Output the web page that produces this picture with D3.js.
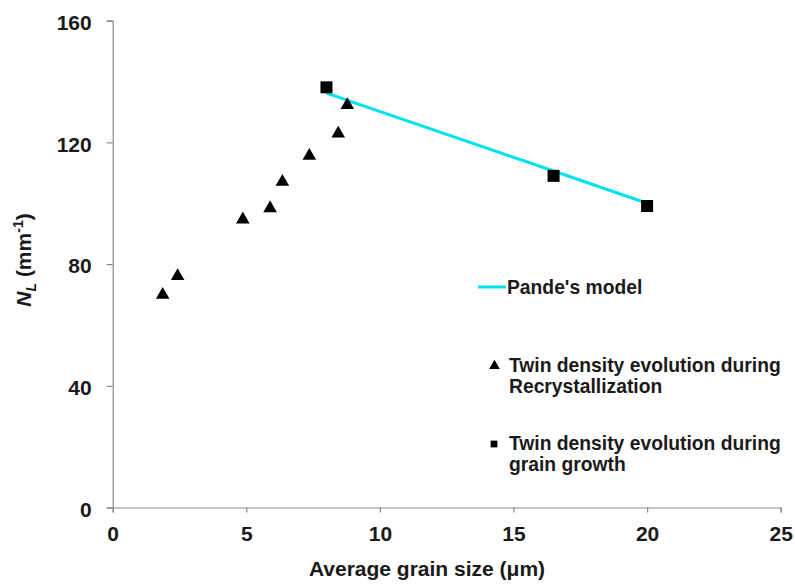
<!DOCTYPE html>
<html>
<head>
<meta charset="utf-8">
<script src="https://cdn.jsdelivr.net/npm/d3@7"></script>
<style>
  html, body { margin: 0; padding: 0; background: #fff; }
  svg { display: block; font-family: "Liberation Sans", Arial, Helvetica, sans-serif; }
</style>
</head>
<body>
<svg id="chart" width="795" height="586"></svg>
<script>
// ---- Data ----
const recrystX = [1.87, 2.43, 4.87, 5.89, 6.35, 7.36, 8.44, 8.78];
const recrystY = [70.2, 76.4, 95.0, 98.7, 107.4, 115.9, 123.2, 132.6];

const growthX = [8.0, 16.5, 20.0];
const growthY = [138.1, 109.0, 99.1];

const pandeX = [8.0, 16.5, 20.0];
const pandeY = [136.2, 110.6, 100.0];

const xTicks = [0, 5, 10, 15, 20, 25];
const yTicks = [0, 40, 80, 120, 160];

const xTitle = "Average grain size (\u03bcm)";
const legendLabels = [
  ["Pande's model"],
  ["Twin density evolution during", "Recrystallization"],
  ["Twin density evolution during", "grain growth"]
];

// ---- Setup ----
const svg = d3.select("#chart");
const textColor = "#1a1a1a";
const axisColor = "#8a8a8a";
const cyan = "#00e2ee";

const x = d3.scaleLinear().domain([0, 25]).range([112.7, 780.7]);
const y = d3.scaleLinear().domain([0, 160]).range([507.5, 20.7]);

// Axes
const xAxis = svg.append("g")
  .attr("transform", `translate(0,${y(0)})`)
  .call(d3.axisBottom(x).tickValues(xTicks).tickSizeOuter(0).tickSize(5).tickPadding(14));
const yAxis = svg.append("g")
  .attr("transform", `translate(${x(0)},0)`)
  .call(d3.axisLeft(y).tickValues(yTicks).tickSizeOuter(0).tickSize(6).tickPadding(15));

[xAxis, yAxis].forEach(g => {
  g.select(".domain").attr("stroke", axisColor).attr("stroke-width", 1.2);
  g.selectAll(".tick line").attr("stroke", axisColor).attr("stroke-width", 1.2);
  g.selectAll(".tick text")
    .attr("fill", textColor)
    .attr("font-size", 21)
    .attr("font-weight", "bold")
    .attr("font-family", "'Liberation Sans', Arial, sans-serif");
});
yAxis.selectAll(".tick text").attr("dy", "0.42em");

// Axis titles
svg.append("text")
  .attr("x", 427).attr("y", 576)
  .attr("text-anchor", "middle")
  .attr("font-size", 21).attr("font-weight", "bold")
  .attr("fill", textColor)
  .text(xTitle);

const yt = svg.append("text")
  .attr("transform", "translate(31,260) rotate(-90)")
  .attr("text-anchor", "middle")
  .attr("font-size", 21).attr("font-weight", "bold")
  .attr("fill", textColor);
yt.append("tspan").attr("font-style", "italic").text("N");
yt.append("tspan").attr("font-style", "italic").attr("font-size", 14).attr("dy", 5).text("L");
yt.append("tspan").attr("dy", -5).text(" (mm");
yt.append("tspan").attr("font-size", 14).attr("dy", -8).text("-1");
yt.append("tspan").attr("dy", 8).text(")");

// Pande's model line
const pande = pandeX.map((d, i) => [d, pandeY[i]]);
svg.append("path")
  .datum(pande)
  .attr("fill", "none")
  .attr("stroke", cyan)
  .attr("stroke-width", 3)
  .attr("d", d3.line().x(d => x(d[0])).y(d => y(d[1])));

// Growth squares
const sq = d3.symbol().type(d3.symbolSquare).size(144);
svg.append("g").selectAll("path")
  .data(growthX.map((d, i) => [d, growthY[i]]))
  .join("path")
  .attr("d", sq)
  .attr("fill", "#000")
  .attr("transform", d => `translate(${x(d[0])},${y(d[1])})`);

// Recrystallization triangles
const tri = d3.symbol().type(d3.symbolTriangle).size(80);
svg.append("g").selectAll("path")
  .data(recrystX.map((d, i) => [d, recrystY[i]]))
  .join("path")
  .attr("d", tri)
  .attr("fill", "#000")
  .attr("transform", d => `translate(${x(d[0])},${y(d[1]) + 1})`);

// Legend
const leg = svg.append("g").attr("font-size", 19.3).attr("font-weight", "bold").attr("fill", textColor);
leg.append("line")
  .attr("x1", 478).attr("x2", 506).attr("y1", 287).attr("y2", 287)
  .attr("stroke", cyan).attr("stroke-width", 3);
leg.append("text").attr("x", 507).attr("y", 293.5).text(legendLabels[0][0]);

leg.append("path")
  .attr("d", d3.symbol().type(d3.symbolTriangle).size(50)())
  .attr("fill", "#000")
  .attr("transform", "translate(494.5,366)");
legendLabels[1].forEach((t, i) => {
  leg.append("text").attr("x", 509).attr("y", 372 + i * 21).text(t);
});

leg.append("path")
  .attr("d", d3.symbol().type(d3.symbolSquare).size(46)())
  .attr("fill", "#000")
  .attr("transform", "translate(494,444)");
legendLabels[2].forEach((t, i) => {
  leg.append("text").attr("x", 509).attr("y", 450 + i * 21).text(t);
});
</script>
</body>
</html>
